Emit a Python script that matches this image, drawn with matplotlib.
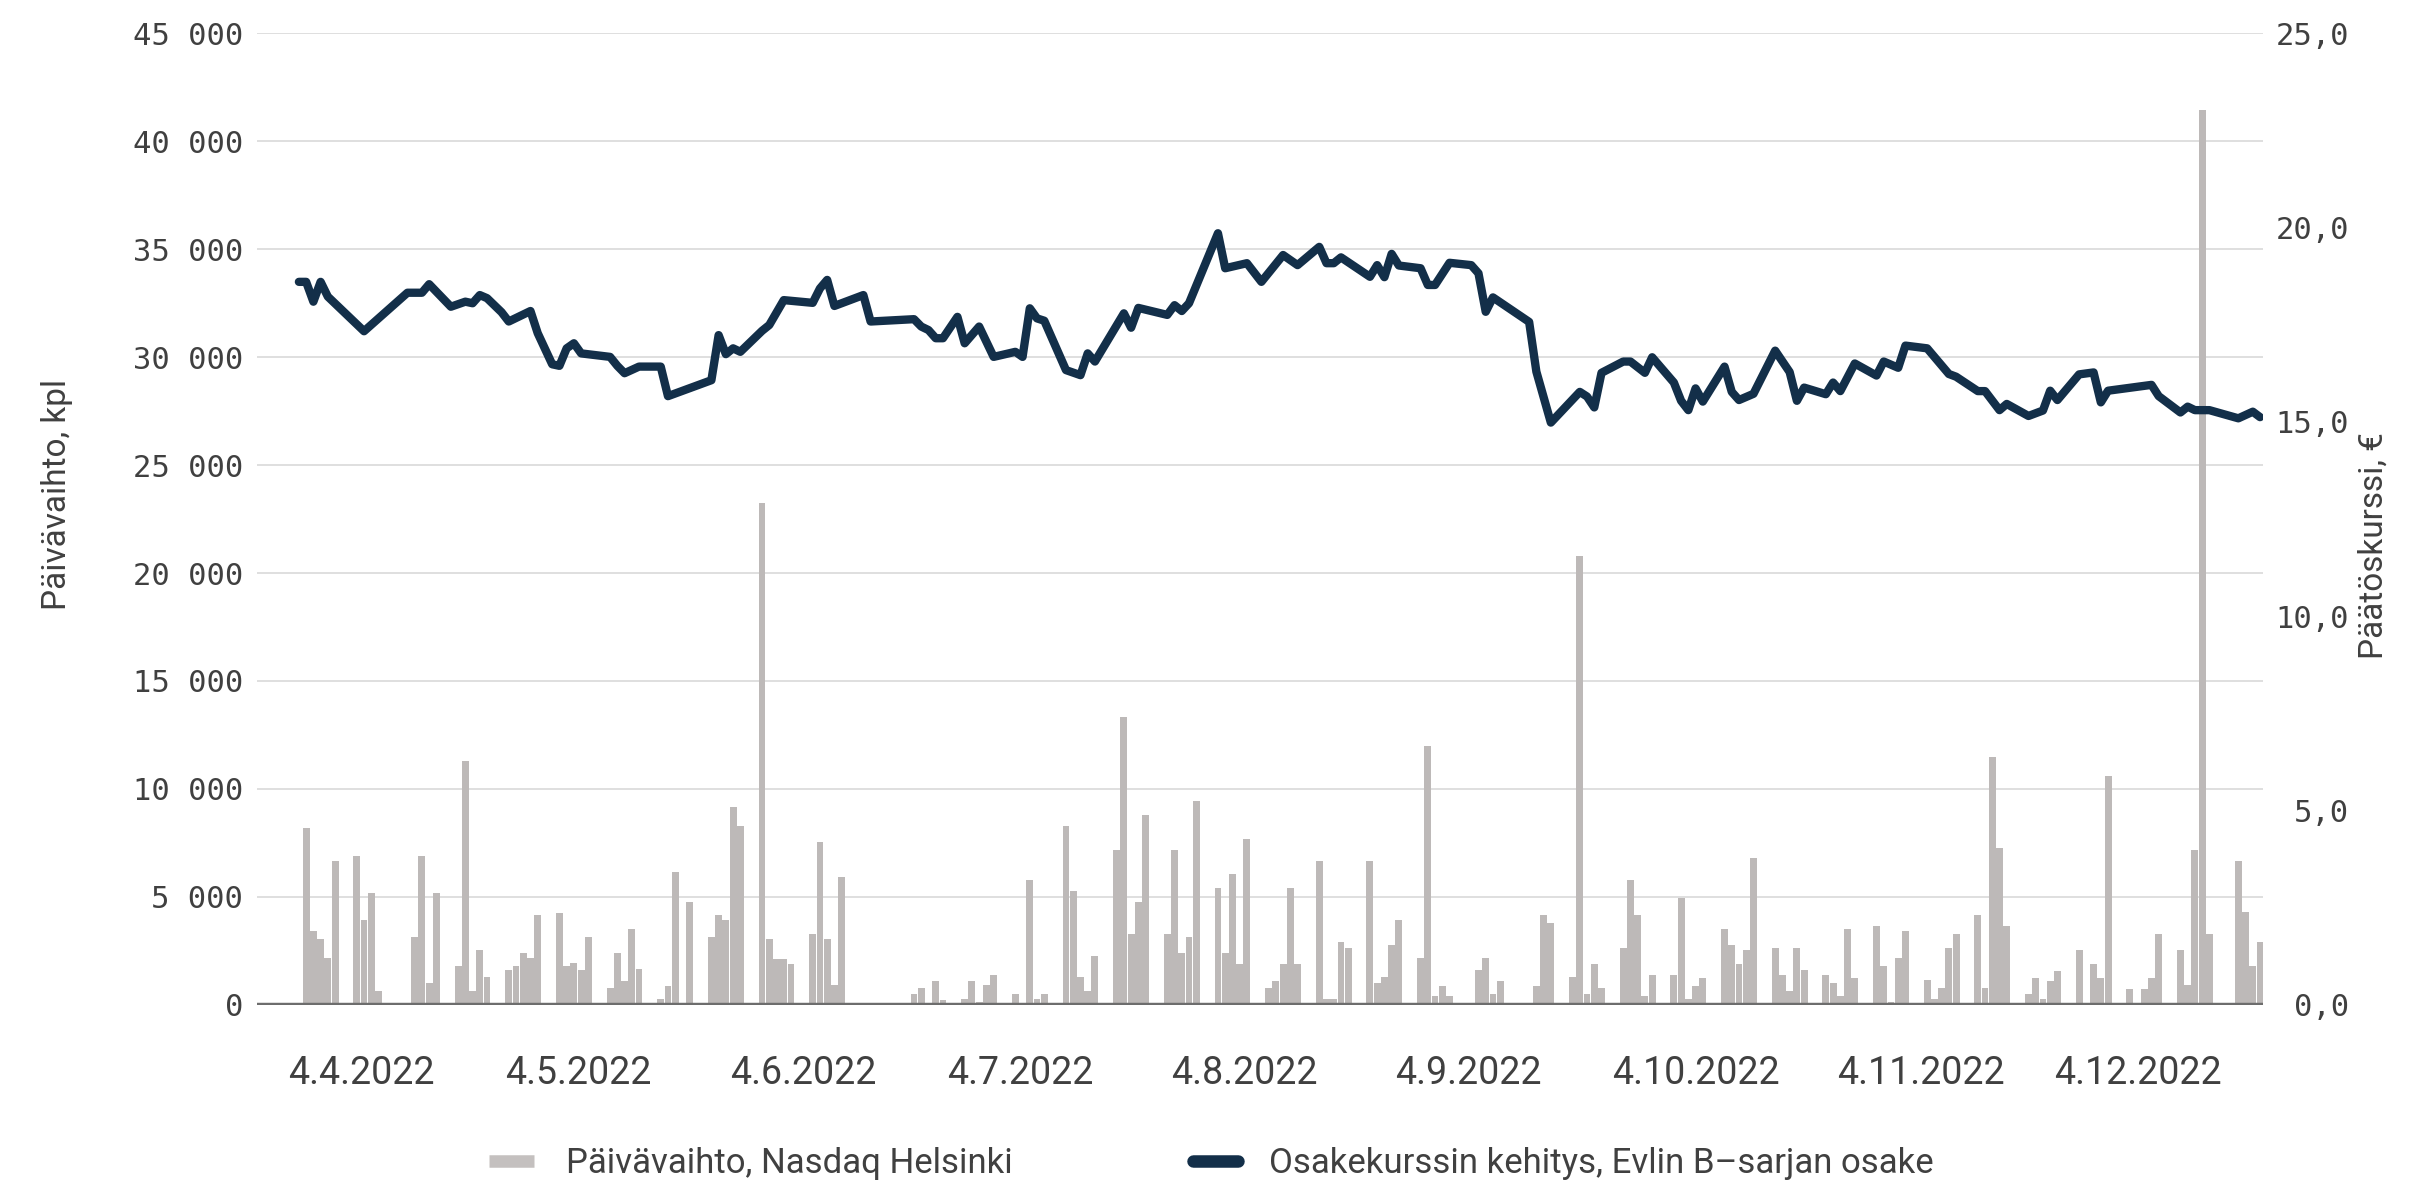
import matplotlib
matplotlib.use("Agg")
import matplotlib.pyplot as plt
import matplotlib.dates as mdates
import matplotlib.transforms as mtransforms
from matplotlib.lines import Line2D
from matplotlib import font_manager
import pandas as pd

# Päivävaihto (kpl) viikoittain ma-pe, ensimmäinen viikko alkaa 4.4.2022.
# 0 = ei vaihtoa / pörssin pyhäpäivä
volume_weeks = [
    [8180, 3420, 3040, 2160, 6660],
    [6910, 3920, 5170, 660, 0],
    [0, 3150, 6910, 1030, 5170],
    [1790, 11300, 660, 2540, 1290],
    [1610, 1790, 2410, 2160, 4170],
    [4280, 1790, 1930, 1610, 3150],
    [780, 2410, 1110, 3530, 1650],
    [280, 890, 6160, 0, 4780],
    [3150, 4170, 3920, 9170, 8290],
    [23250, 3040, 2150, 2150, 1910],
    [3290, 7550, 3040, 910, 5920],
    [0, 0, 0, 0, 0],
    [520, 770, 0, 1130, 220],
    [280, 1130, 160, 910, 1400],
    [500, 90, 5780, 280, 500],
    [8300, 5300, 1290, 660, 2290],
    [7180, 13350, 3290, 4780, 8810],
    [3290, 7180, 2410, 3150, 9430],
    [5420, 2410, 6050, 1910, 7680],
    [770, 1130, 1910, 5420, 1910],
    [6680, 280, 280, 2920, 2650],
    [6680, 1030, 1290, 2790, 3920],
    [2160, 12000, 410, 890, 410],
    [0, 1610, 2160, 530, 1130],
    [0, 90, 890, 4170, 3790],
    [1290, 20780, 530, 1910, 780],
    [2650, 5780, 4170, 410, 1400],
    [1400, 4970, 280, 890, 1270],
    [3530, 2790, 1910, 2540, 6800],
    [2650, 1400, 660, 2650, 1610],
    [1400, 1030, 410, 3530, 1270],
    [3650, 1790, 160, 2160, 3420],
    [1160, 280, 780, 2650, 3290],
    [4170, 780, 11480, 7290, 3650],
    [520, 1270, 280, 1110, 1580],
    [2540, 0, 1910, 1270, 10600],
    [740, 90, 740, 1270, 3290],
    [2540, 910, 7180, 41450, 3290],
    [0, 6680, 4290, 1790, 2920],
]

# Osakekurssi (EUR)
price_days = [
    "04-03", "04-04", "04-05", "04-06", "04-07", "04-12", "04-18", "04-20", "04-21", "04-24",
    "04-26", "04-27", "04-28", "04-29", "05-01", "05-02", "05-05", "05-06", "05-08", "05-09",
    "05-10", "05-11", "05-12", "05-16", "05-17", "05-18", "05-20", "05-23", "05-24", "05-30",
    "05-31", "06-01", "06-02", "06-03", "06-06", "06-07", "06-09", "06-13", "06-14", "06-15",
    "06-16", "06-20", "06-21", "06-27", "06-28", "06-29", "06-30", "07-01", "07-03", "07-04",
    "07-06", "07-08", "07-11", "07-12", "07-13", "07-14", "07-15", "07-18", "07-20", "07-21",
    "07-22", "07-26", "07-27", "07-28", "08-01", "08-02", "08-03", "08-04", "08-08", "08-09",
    "08-12", "08-14", "08-17", "08-19", "08-22", "08-23", "08-24", "08-25", "08-29", "08-30",
    "08-31", "09-01", "09-02", "09-05", "09-06", "09-07", "09-09", "09-12", "09-13", "09-14",
    "09-15", "09-20", "09-21", "09-23", "09-27", "09-28", "09-29", "09-30", "10-03", "10-04",
    "10-06", "10-07", "10-10", "10-11", "10-12", "10-13", "10-14", "10-17", "10-18", "10-19",
    "10-21", "10-24", "10-26", "10-27", "10-28", "10-31", "11-01", "11-02", "11-04", "11-07",
    "11-08", "11-10", "11-11", "11-14", "11-17", "11-18", "11-21", "11-22", "11-24", "11-25",
    "11-28", "11-30", "12-01", "12-02", "12-05", "12-07", "12-08", "12-09", "12-15", "12-16",
    "12-19", "12-20", "12-21", "12-23", "12-27", "12-29", "12-30",
]
price_eur = [
    18.60, 18.60, 18.09, 18.60, 18.22, 17.33, 18.32, 18.32, 18.54, 17.96,
    18.09, 18.05, 18.26, 18.18, 17.82, 17.58, 17.85, 17.28, 16.48, 16.44,
    16.89, 17.02, 16.76, 16.67, 16.44, 16.25, 16.42, 16.42, 15.66, 16.07,
    17.23, 16.74, 16.89, 16.80, 17.34, 17.49, 18.13, 18.06, 18.43, 18.65,
    17.98, 18.26, 17.58, 17.64, 17.45, 17.36, 17.15, 17.15, 17.70, 17.02,
    17.45, 16.67, 16.80, 16.67, 17.92, 17.66, 17.60, 16.33, 16.20, 16.76,
    16.55, 17.79, 17.42, 17.93, 17.75, 18.00, 17.85, 18.05, 19.85, 18.95,
    19.08, 18.60, 19.29, 19.03, 19.50, 19.08, 19.08, 19.23, 18.73, 19.03,
    18.72, 19.32, 19.02, 18.95, 18.52, 18.52, 19.09, 19.03, 18.82, 17.83,
    18.20, 17.57, 16.29, 14.98, 15.77, 15.65, 15.37, 16.26, 16.55, 16.55,
    16.26, 16.66, 16.01, 15.54, 15.30, 15.86, 15.52, 16.42, 15.77, 15.56,
    15.72, 16.83, 16.28, 15.54, 15.88, 15.71, 16.01, 15.79, 16.50, 16.19,
    16.55, 16.39, 16.96, 16.89, 16.23, 16.16, 15.79, 15.79, 15.30, 15.46,
    15.15, 15.29, 15.80, 15.56, 16.22, 16.27, 15.50, 15.80, 15.95, 15.66,
    15.24, 15.39, 15.30, 15.30, 15.09, 15.26, 15.12,
]

tick_dates = ["2022-04-04", "2022-05-04", "2022-06-04", "2022-07-04", "2022-08-04",
              "2022-09-04", "2022-10-04", "2022-11-04", "2022-12-04"]

legend_labels = ["Päivävaihto, Nasdaq Helsinki", "Osakekurssin kehitys, Evlin B\u2013sarjan osake"]

BAR_COLOR = "#bdb9b8"
LINE_COLOR = "#132f49"
TEXT_COLOR = "#404040"

installed = {f.name for f in font_manager.fontManager.ttflist}
narrow = [f for f in ["Liberation Sans Narrow", "DejaVu Sans Condensed", "Roboto", "DejaVu Sans"]
          if f in installed][0]
mono = "DejaVu Sans Mono"

bar_dates = pd.bdate_range("2022-04-04", periods=len(volume_weeks) * 5)
volumes = [v for week in volume_weeks for v in week]
line_dates = pd.to_datetime(["2022-" + d for d in price_days])

fig = plt.figure(figsize=(24.33, 11.84), dpi=100)
ax = fig.add_axes([0.1056, 0.1512, 0.8245, 0.8209])

ax.bar(bar_dates, volumes, width=0.95, color=BAR_COLOR, zorder=2, linewidth=0)
ax.set_ylim(0, 45000)
ax.set_yticks(range(0, 45001, 5000))
ax.set_yticklabels([f"{v:,}".replace(",", " ") for v in range(0, 45001, 5000)],
                   family=mono, fontsize=22, color=TEXT_COLOR)
ax.grid(axis="y", color="#d6d6d6", linewidth=1.1)
ax.set_axisbelow(True)
ax.axhline(0, color="#6d6d6d", linewidth=3.2, zorder=3)
for s in ax.spines.values():
    s.set_visible(False)
ax.tick_params(axis="y", length=0, pad=10)

start = mdates.date2num(pd.Timestamp("2022-04-04"))
ticks = pd.to_datetime(tick_dates)
ax.set_xticks(mdates.date2num(ticks))
ax.set_xticklabels([f"{d.day}.{d.month}.{d.year}" for d in ticks], family=narrow,
                   fontsize=27, color=TEXT_COLOR, ha="left")
ax.tick_params(axis="x", length=0, pad=36)
# vähän vasemmalle, kuten alkuperäisessä
shift = mtransforms.ScaledTranslation(-18 / 100, 0, fig.dpi_scale_trans)
for lbl in ax.get_xticklabels():
    lbl.set_transform(lbl.get_transform() + shift)

ax2 = ax.twinx()
ax2.plot(line_dates, price_eur, color=LINE_COLOR, linewidth=6,
         solid_joinstyle="round", solid_capstyle="round", zorder=4)
ax2.set_ylim(0, 25)
ax2.set_yticks(range(0, 26, 5))
ax2.set_yticklabels([f"{v:.1f}".replace(".", ",") for v in range(0, 26, 5)],
                    family=mono, fontsize=22, color=TEXT_COLOR, ha="right")
ax2.tick_params(axis="y", length=0, pad=62)
for s in ax2.spines.values():
    s.set_visible(False)
ax.set_xlim(start - 6.8, start + 270.4)

fig.text(57 / 2433, 1 - 494 / 1184, "Päivävaihto, kpl", rotation=90, ha="center", va="center",
         family=narrow, fontsize=24, color=TEXT_COLOR)
fig.text(2374 / 2433, 1 - 546 / 1184, "Päätöskurssi, €", rotation=90, ha="center", va="center",
         family=narrow, fontsize=24, color=TEXT_COLOR)

handles = [Line2D([], [], color="#c4c0bf", linewidth=9, solid_capstyle="butt"),
           Line2D([], [], color=LINE_COLOR, linewidth=9, solid_capstyle="round")]
fig.legend(handles, legend_labels, loc="center", bbox_to_anchor=(0.498, 0.017), ncol=2,
           frameon=False, handlelength=1.3, handletextpad=0.9, columnspacing=5.2,
           prop={"family": narrow, "size": 25}, labelcolor=TEXT_COLOR)

fig.savefig("out.png", dpi=100)
